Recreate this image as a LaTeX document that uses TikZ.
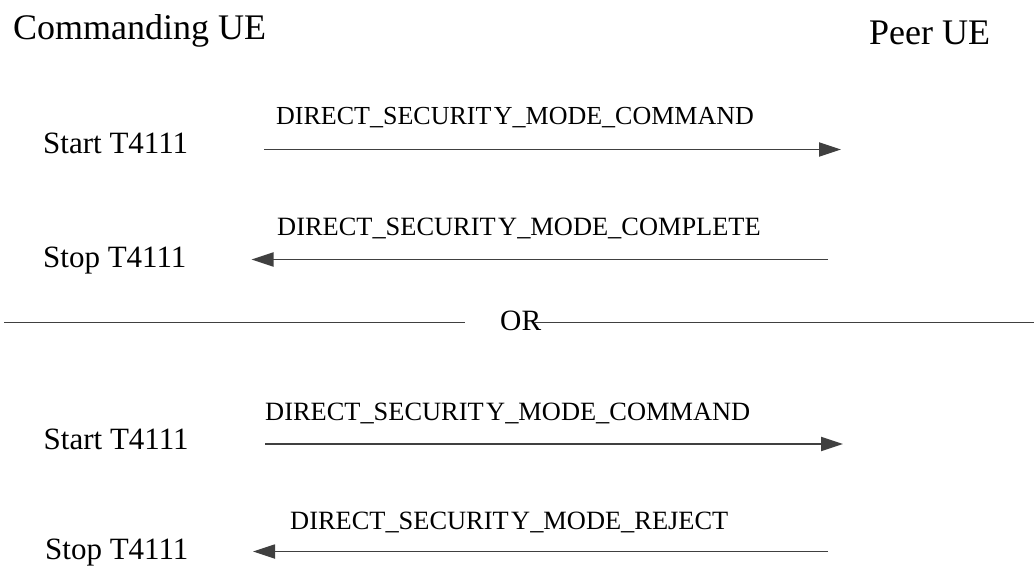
\documentclass[tikz,border=0pt]{standalone}
\usepackage{fontspec}
\setmainfont{Liberation Serif}
\usetikzlibrary{arrows.meta}
\definecolor{linegray}{HTML}{404040}
\newcommand{\SecW}{SECURIT\kern2.5pt Y}
\begin{document}
\begin{tikzpicture}[x=1pt,y=-1pt,
  lbl/.style={inner sep=0pt, anchor=base west, text=black},
  ttl/.style={lbl, font=\fontsize{36}{40}\selectfont},
  tmr/.style={lbl, font=\fontsize{31}{36}\selectfont},
  msg/.style={lbl, font=\fontsize{26.4}{30}\selectfont},
  msgline/.style={draw=linegray, line width=1.8pt, -{Triangle[length=22pt,width=14pt]}},
  sepline/.style={draw=linegray, line width=1.8pt}]
\useasboundingbox (0,0) rectangle (1034,567);
% headers
\node[ttl] (cue) at (13,40) {Commanding UE};
\node[ttl] (pue) at (869,45) {Peer UE};
% block 1
\node[tmr] (start1) at (43,153.5) {Start T4111};
\node[msg, font=\fontsize{26}{30}\selectfont] (m1) at (276,125) {DIRECT\_\SecW\_MODE\_COMMAND};
\coordinate (a1s) at (264,149.5);
\coordinate (a1e) at (841,149.5);
\draw[msgline] (a1s) -- (a1e);
\node[tmr] (stop1) at (43,267) {Stop T4111};
\node[msg] (m2) at (277,235) {DIRECT\_\SecW\_MODE\_COMPLETE};
\coordinate (a2s) at (828,259.5);
\coordinate (a2e) at (251.5,259.5);
\draw[msgline] (a2s) -- (a2e);
% OR separator
\node[lbl, font=\fontsize{29.5}{34}\selectfont] (or) at (500,330) {OR};
\coordinate (l1s) at (4,322.5);
\coordinate (l1e) at (465,322.5);
\coordinate (l2s) at (535,322.5);
\coordinate (l2e) at (1034,322.5);
\draw[sepline] (l1s) -- (l1e);
\draw[sepline] (l2s) -- (l2e);
% block 2
\node[tmr] (start2) at (43.5,449) {Start T4111};
\node[msg] (m3) at (265,420) {DIRECT\_\SecW\_MODE\_COMMAND};
\coordinate (a3s) at (265,444);
\coordinate (a3e) at (843,444);
\draw[msgline] (a3s) -- (a3e);
\node[tmr] (stop2) at (45,559.5) {Stop T4111};
\node[msg] (m4) at (290,529) {DIRECT\_\SecW\_MODE\_REJECT};
\coordinate (a4s) at (828,551.5);
\coordinate (a4e) at (253,551.5);
\draw[msgline] (a4s) -- (a4e);
\end{tikzpicture}
\end{document}
